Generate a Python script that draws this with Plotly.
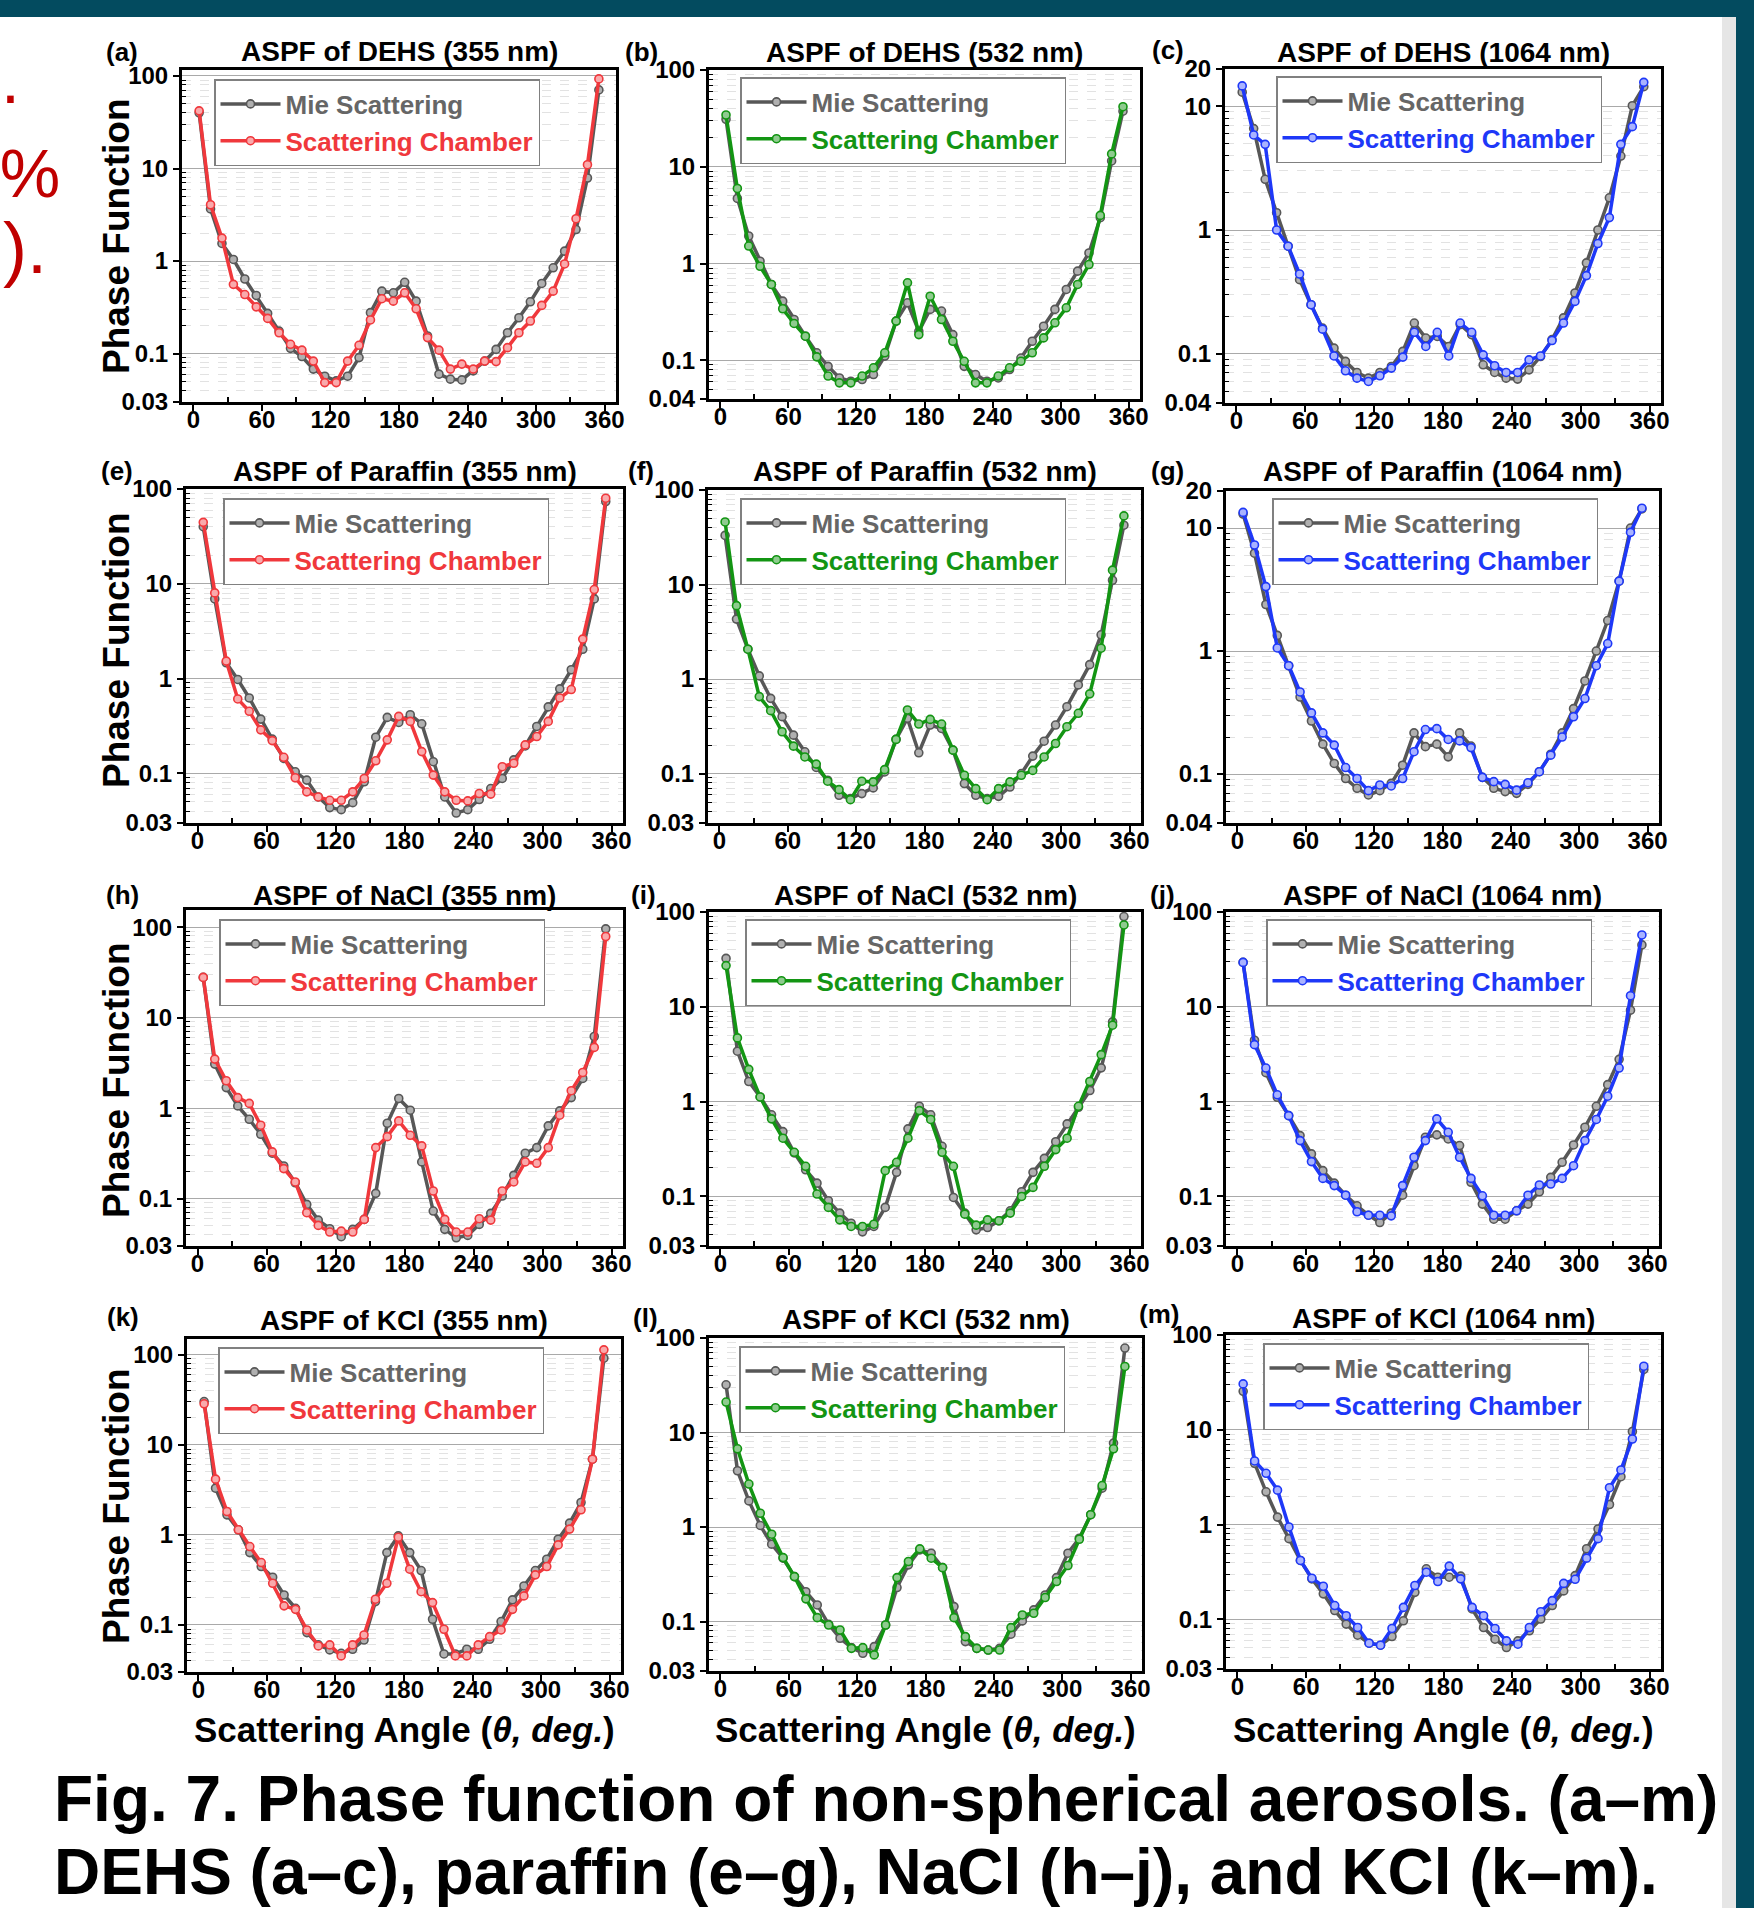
import math
import plotly.graph_objects as go

W, H = 1754, 1908
FONT = "Liberation Sans, Arial, Helvetica, sans-serif"

# ---------------- data ----------------
ANGLE = [5, 15, 25, 35, 45, 55, 65, 75, 85, 95, 105, 115, 125, 135, 145, 155, 165, 175,
         185, 195, 205, 215, 225, 235, 245, 255, 265, 275, 285, 295, 305, 315, 325, 335, 345, 355]
X_TICKS = [0, 60, 120, 180, 240, 300, 360]

DEHS_355_MIE = [40, 3.66, 1.55, 1.04, 0.64, 0.425, 0.272, 0.175, 0.114, 0.093, 0.068, 0.057, 0.0507, 0.057, 0.0906, 0.277, 0.473, 0.454,
                0.59, 0.369, 0.155, 0.06, 0.053, 0.052, 0.065, 0.083, 0.111, 0.168, 0.244, 0.363, 0.573, 0.846, 1.28, 2.19, 7.9, 70.7]
DEHS_355_CHAMBER = [42, 4.06, 1.77, 0.56, 0.435, 0.32, 0.24, 0.168, 0.126, 0.109, 0.083, 0.0486, 0.0486, 0.083, 0.123, 0.231, 0.392, 0.369,
                    0.454, 0.305, 0.149, 0.109, 0.068, 0.077, 0.068, 0.083, 0.082, 0.116, 0.168, 0.225, 0.332, 0.473, 0.93, 2.87, 11, 93]

DEHS_532_MIE = [31, 4.72, 1.93, 1.06, 0.61, 0.41, 0.265, 0.178, 0.12, 0.087, 0.066, 0.061, 0.0635, 0.0716, 0.111, 0.255, 0.394, 0.2,
                0.337, 0.324, 0.185, 0.087, 0.0716, 0.061, 0.066, 0.0807, 0.106, 0.158, 0.226, 0.337, 0.541, 0.837, 1.29, 2.98, 11.5, 37.6]
DEHS_532_CHAMBER = [34.3, 5.98, 1.52, 0.94, 0.61, 0.342, 0.241, 0.178, 0.109, 0.069, 0.0587, 0.0587, 0.069, 0.084, 0.12, 0.255, 0.634, 0.185,
                    0.461, 0.265, 0.158, 0.098, 0.0587, 0.0587, 0.069, 0.084, 0.098, 0.12, 0.171, 0.245, 0.35, 0.61, 0.98, 3.15, 13.6, 41.8]

DEHS_1064_MIE = [13.0, 6.6, 2.57, 1.38, 0.74, 0.397, 0.249, 0.161, 0.111, 0.0867, 0.0706, 0.0635, 0.0706, 0.0789, 0.1045, 0.177, 0.134, 0.138,
                 0.1145, 0.172, 0.1426, 0.0814, 0.0706, 0.0635, 0.0624, 0.0741, 0.095, 0.13, 0.195, 0.31, 0.542, 1.0, 1.82, 3.96, 10.1, 14.4]
DEHS_1064_CHAMBER = [14.6, 5.86, 4.92, 1.0, 0.74, 0.441, 0.249, 0.158, 0.096, 0.0728, 0.0635, 0.0597, 0.0664, 0.0766, 0.094, 0.149, 0.1145, 0.149,
                     0.096, 0.177, 0.149, 0.098, 0.08, 0.0706, 0.0706, 0.0893, 0.096, 0.128, 0.177, 0.265, 0.428, 0.778, 1.26, 4.92, 6.84, 15.6]

PARAFFIN_355_MIE = [40, 6.93, 1.47, 0.98, 0.625, 0.374, 0.23, 0.144, 0.104, 0.085, 0.0565, 0.0436, 0.0415, 0.0492, 0.0817, 0.241, 0.39, 0.345,
                    0.416, 0.334, 0.133, 0.0565, 0.0382, 0.0415, 0.053, 0.0693, 0.0885, 0.139, 0.195, 0.313, 0.503, 0.78, 1.24, 2.04, 6.93, 73.6]
PARAFFIN_355_CHAMBER = [44.5, 8.02, 1.53, 0.61, 0.452, 0.288, 0.222, 0.148, 0.09, 0.0639, 0.0565, 0.0521, 0.0521, 0.0639, 0.0885, 0.136, 0.226, 0.4,
                        0.354, 0.17, 0.096, 0.0639, 0.0521, 0.0513, 0.0614, 0.0605, 0.1177, 0.128, 0.2, 0.245, 0.354, 0.625, 0.767, 2.61, 8.7, 80]

PARAFFIN_532_MIE = [33.1, 4.31, 2.07, 1.08, 0.625, 0.4, 0.255, 0.17, 0.116, 0.085, 0.0589, 0.0543, 0.0614, 0.0705, 0.104, 0.23, 0.384, 0.166,
                    0.326, 0.3, 0.177, 0.0784, 0.0589, 0.0543, 0.0574, 0.0721, 0.1, 0.153, 0.22, 0.326, 0.51, 0.867, 1.42, 2.94, 11.1, 42.4]
PARAFFIN_532_CHAMBER = [45.9, 5.98, 2.07, 0.652, 0.463, 0.277, 0.195, 0.15, 0.126, 0.083, 0.0676, 0.053, 0.083, 0.0817, 0.11, 0.23, 0.471, 0.334,
                        0.374, 0.334, 0.177, 0.096, 0.0693, 0.053, 0.0693, 0.0817, 0.096, 0.108, 0.15, 0.208, 0.313, 0.434, 0.697, 2.12, 14.2, 53.2]

PARAFFIN_1064_MIE = [13.0, 6.24, 2.39, 1.34, 0.76, 0.423, 0.27, 0.175, 0.122, 0.092, 0.0766, 0.0676, 0.0733, 0.084, 0.118, 0.216, 0.167, 0.175,
                     0.138, 0.216, 0.169, 0.094, 0.0766, 0.072, 0.0697, 0.0825, 0.1045, 0.145, 0.216, 0.34, 0.571, 1.0, 1.77, 3.7, 10, 14.3]
PARAFFIN_1064_CHAMBER = [13.4, 7.28, 3.34, 1.06, 0.76, 0.465, 0.314, 0.216, 0.172, 0.113, 0.092, 0.0733, 0.0815, 0.08, 0.092, 0.152, 0.23, 0.234,
                         0.191, 0.186, 0.164, 0.094, 0.0867, 0.0825, 0.074, 0.085, 0.1045, 0.1425, 0.2, 0.292, 0.411, 0.76, 1.15, 3.7, 9.22, 14.5]

NACL_355_MIE = [27.9, 3.07, 1.69, 1.06, 0.755, 0.515, 0.318, 0.23, 0.15, 0.0865, 0.058, 0.0466, 0.038, 0.0458, 0.059, 0.1145, 0.682, 1.28,
                0.95, 0.255, 0.073, 0.0458, 0.037, 0.0393, 0.052, 0.0689, 0.107, 0.181, 0.318, 0.367, 0.637, 0.933, 1.31, 2.13, 6.2, 96]
NACL_355_CHAMBER = [27.9, 3.49, 2.01, 1.31, 1.13, 0.649, 0.329, 0.215, 0.153, 0.07, 0.0507, 0.0428, 0.0438, 0.0428, 0.059, 0.367, 0.485, 0.724,
                    0.502, 0.383, 0.1216, 0.059, 0.0428, 0.0428, 0.0601, 0.058, 0.1216, 0.153, 0.255, 0.246, 0.367, 0.837, 1.56, 2.48, 4.7, 79]

NACL_532_MIE = [32.4, 3.4, 1.63, 1.12, 0.726, 0.483, 0.288, 0.191, 0.138, 0.09, 0.0667, 0.0522, 0.0423, 0.0482, 0.0766, 0.1795, 0.516, 0.895,
                0.726, 0.338, 0.0975, 0.0667, 0.0444, 0.047, 0.0553, 0.0705, 0.112, 0.1795, 0.252, 0.378, 0.582, 0.871, 1.31, 2.27, 6.93, 89.5]
NACL_532_CHAMBER = [27.2, 4.7, 2.19, 1.12, 0.658, 0.411, 0.292, 0.208, 0.106, 0.0766, 0.0566, 0.0482, 0.0482, 0.0509, 0.187, 0.229, 0.411, 0.804,
                    0.648, 0.292, 0.208, 0.065, 0.0498, 0.0566, 0.0553, 0.0667, 0.1, 0.1245, 0.208, 0.312, 0.411, 0.893, 1.63, 3.13, 6.4, 73]

NACL_1064_MIE = [29.4, 4.44, 2.02, 1.11, 0.711, 0.438, 0.281, 0.187, 0.138, 0.103, 0.0797, 0.0634, 0.0531, 0.0667, 0.103, 0.211, 0.421, 0.446,
                 0.404, 0.344, 0.141, 0.083, 0.0575, 0.0575, 0.0705, 0.083, 0.112, 0.159, 0.229, 0.349, 0.537, 0.893, 1.51, 2.79, 9.22, 45]
NACL_1064_CHAMBER = [29.4, 3.99, 2.26, 1.18, 0.711, 0.388, 0.233, 0.155, 0.13, 0.103, 0.0689, 0.0634, 0.0634, 0.0624, 0.13, 0.259, 0.388, 0.658,
                     0.475, 0.259, 0.155, 0.1016, 0.0634, 0.0634, 0.0705, 0.103, 0.132, 0.135, 0.155, 0.211, 0.388, 0.648, 1.14, 2.26, 13.1, 57.3]

KCL_355_MIE = [30.3, 3.3, 1.67, 1.14, 0.636, 0.445, 0.339, 0.215, 0.153, 0.0822, 0.06, 0.0528, 0.0484, 0.0537, 0.068, 0.1815, 0.636, 0.975,
               0.636, 0.402, 0.1156, 0.0476, 0.0476, 0.0537, 0.0537, 0.0693, 0.109, 0.19, 0.271, 0.402, 0.537, 0.895, 1.35, 2.29, 6.93, 91.8]
KCL_355_CHAMBER = [28.6, 4.16, 1.82, 1.14, 0.742, 0.493, 0.29, 0.163, 0.149, 0.088, 0.0585, 0.06, 0.0453, 0.06, 0.0774, 0.193, 0.29, 0.942,
                   0.416, 0.234, 0.177, 0.0895, 0.0453, 0.0453, 0.06, 0.0741, 0.088, 0.149, 0.21, 0.36, 0.445, 0.774, 1.16, 1.9, 6.93, 113.6]

KCL_532_MIE = [32, 3.94, 1.89, 1.04, 0.659, 0.468, 0.299, 0.207, 0.15, 0.0936, 0.0665, 0.053, 0.0462, 0.0543, 0.092, 0.229, 0.398, 0.574,
               0.529, 0.372, 0.144, 0.0614, 0.0521, 0.05, 0.0521, 0.0735, 0.1016, 0.133, 0.191, 0.292, 0.529, 0.762, 1.35, 2.58, 7.73, 78.3]
KCL_532_CHAMBER = [21, 6.73, 2.85, 1.4, 0.84, 0.475, 0.299, 0.174, 0.11, 0.092, 0.0815, 0.0521, 0.053, 0.0444, 0.092, 0.292, 0.432, 0.588,
                   0.468, 0.372, 0.11, 0.0693, 0.0521, 0.05, 0.05, 0.0863, 0.1175, 0.1225, 0.1795, 0.265, 0.392, 0.743, 1.35, 2.75, 6.73, 50]

KCL_1064_MIE = [25.5, 4.43, 2.22, 1.2, 0.711, 0.419, 0.268, 0.186, 0.124, 0.0893, 0.0682, 0.0561, 0.0535, 0.066, 0.0968, 0.193, 0.342, 0.279,
                0.279, 0.286, 0.129, 0.0822, 0.0619, 0.0505, 0.0594, 0.0759, 0.101, 0.14, 0.2, 0.29, 0.557, 0.9, 1.63, 3.2, 9.6, 43.3]
KCL_1064_CHAMBER = [30.5, 4.69, 3.48, 2.31, 0.944, 0.419, 0.272, 0.224, 0.14, 0.1094, 0.0822, 0.0561, 0.0535, 0.0803, 0.134, 0.228, 0.315, 0.251,
                    0.365, 0.268, 0.134, 0.1094, 0.0803, 0.0594, 0.0548, 0.0822, 0.1205, 0.158, 0.24, 0.265, 0.443, 0.711, 2.45, 3.77, 8.0, 46.9]

# ---------------- styles ----------------
MIE_LINE, MIE_FILL, MIE_TEXT = "#575757", "#B0B0B0", "#666666"
WL_LINE = {"355": "#F0383C", "532": "#139513", "1064": "#1E38F8"}
WL_FILL = {"355": "#F9AAAC", "532": "#8FCB8F", "1064": "#A9B3FF"}
TEAL = "#034B5F"

Y3 = [0.03, 0.1, 1, 10, 100]
Y4 = [0.04, 0.1, 1, 10, 100]
Y20 = [0.04, 0.1, 1, 10, 20]

panels = [
    dict(tag="(a)", title="ASPF of DEHS (355 nm)", mie=DEHS_355_MIE, ch=DEHS_355_CHAMBER, wl="355",
         frame=(182, 616, 70, 402), yr=(0.03, 116), yt=Y3, leg=(214, 79), tagpos=(122, 52), ty=51),
    dict(tag="(b)", title="ASPF of DEHS (532 nm)", mie=DEHS_532_MIE, ch=DEHS_532_CHAMBER, wl="532",
         frame=(709, 1140, 70, 399), yr=(0.04, 100), yt=Y4, leg=(740, 77), tagpos=(641, 52), ty=52),
    dict(tag="(c)", title="ASPF of DEHS (1064 nm)", mie=DEHS_1064_MIE, ch=DEHS_1064_CHAMBER, wl="1064",
         frame=(1225, 1661, 69, 403), yr=(0.04, 20), yt=Y20, leg=(1276, 76), tagpos=(1168, 50), ty=52),
    dict(tag="(e)", title="ASPF of Paraffin (355 nm)", mie=PARAFFIN_355_MIE, ch=PARAFFIN_355_CHAMBER, wl="355",
         frame=(186, 623, 489, 823), yr=(0.03, 100), yt=Y3, leg=(223, 498), tagpos=(117, 471), ty=472),
    dict(tag="(f)", title="ASPF of Paraffin (532 nm)", mie=PARAFFIN_532_MIE, ch=PARAFFIN_532_CHAMBER, wl="532",
         frame=(708, 1141, 490, 823), yr=(0.03, 100), yt=Y3, leg=(740, 498), tagpos=(641, 471), ty=472),
    dict(tag="(g)", title="ASPF of Paraffin (1064 nm)", mie=PARAFFIN_1064_MIE, ch=PARAFFIN_1064_CHAMBER, wl="1064",
         frame=(1226, 1659, 491, 823), yr=(0.04, 20), yt=Y20, leg=(1272, 498), tagpos=(1167, 471), ty=472),
    dict(tag="(h)", title="ASPF of NaCl (355 nm)", mie=NACL_355_MIE, ch=NACL_355_CHAMBER, wl="355",
         frame=(186, 623, 910, 1246), yr=(0.03, 155), yt=Y3, leg=(219, 919), tagpos=(122, 895), ty=896),
    dict(tag="(i)", title="ASPF of NaCl (532 nm)", mie=NACL_532_MIE, ch=NACL_532_CHAMBER, wl="532",
         frame=(709, 1141, 912, 1246), yr=(0.03, 100), yt=Y3, leg=(745, 919), tagpos=(643, 895), ty=896),
    dict(tag="(j)", title="ASPF of NaCl (1064 nm)", mie=NACL_1064_MIE, ch=NACL_1064_CHAMBER, wl="1064",
         frame=(1226, 1659, 912, 1246), yr=(0.03, 100), yt=Y3, leg=(1266, 919), tagpos=(1162, 895), ty=896),
    dict(tag="(k)", title="ASPF of KCl (355 nm)", mie=KCL_355_MIE, ch=KCL_355_CHAMBER, wl="355",
         frame=(187, 621, 1339, 1672), yr=(0.03, 150), yt=Y3, leg=(218, 1347), tagpos=(123, 1317), ty=1320),
    dict(tag="(l)", title="ASPF of KCl (532 nm)", mie=KCL_532_MIE, ch=KCL_532_CHAMBER, wl="532",
         frame=(709, 1142, 1338, 1671), yr=(0.03, 100), yt=Y3, leg=(739, 1346), tagpos=(645, 1318), ty=1319),
    dict(tag="(m)", title="ASPF of KCl (1064 nm)", mie=KCL_1064_MIE, ch=KCL_1064_CHAMBER, wl="1064",
         frame=(1226, 1661, 1335, 1669), yr=(0.03, 100), yt=Y3, leg=(1263, 1343), tagpos=(1159, 1314), ty=1318),
]


def px(x):
    return x / W


def py(y):
    return 1 - y / H


def label(v):
    return "<b>%g</b>" % v


fig = go.Figure()
annotations = []
layout = {}

for i, p in enumerate(panels):
    n = i + 1
    sfx = "" if n == 1 else str(n)
    xref, yref = "x" + sfx, "y" + sfx
    legname = "legend" + sfx
    color, fill = WL_LINE[p["wl"]], WL_FILL[p["wl"]]

    fig.add_trace(go.Scatter(
        x=ANGLE, y=p["mie"], mode="lines+markers", xaxis=xref, yaxis=yref, legend=legname,
        name='<span style="color:%s">Mie Scattering</span>' % MIE_TEXT,
        line=dict(color=MIE_LINE, width=3.5),
        marker=dict(symbol="circle", size=8, color=MIE_FILL, line=dict(color=MIE_LINE, width=1.6)),
    ))
    fig.add_trace(go.Scatter(
        x=ANGLE, y=p["ch"], mode="lines+markers", xaxis=xref, yaxis=yref, legend=legname,
        name='<span style="color:%s">Scattering Chamber</span>' % color,
        line=dict(color=color, width=3.5),
        marker=dict(symbol="circle", size=8, color=fill, line=dict(color=color, width=1.6)),
    ))

    x0, x1, y0, y1 = p["frame"]
    lo, hi = p["yr"]
    minor_vals = [k * 10 ** e for e in range(-2, 3) for k in range(2, 10)
                  if lo < k * 10 ** e < hi and k * 10 ** e not in p["yt"]]

    layout["xaxis" + sfx] = dict(
        domain=[px(x0), px(x1)], anchor=yref, range=[-10, 370], automargin=False,
        tickmode="array", tickvals=X_TICKS, ticktext=[label(v) for v in X_TICKS],
        ticks="outside", ticklen=6, tickwidth=2, tickcolor="black", ticklabelstandoff=-12,
        showline=True, linewidth=3, linecolor="black", mirror=True,
        showgrid=False, zeroline=False,
        tickfont=dict(family=FONT, size=24, color="black", weight="bold"),
        minor=dict(tickvals=[30, 90, 150, 210, 270, 330], ticks="inside", ticklen=5,
                   tickwidth=1.5, tickcolor="black", showgrid=False),
    )
    layout["yaxis" + sfx] = dict(
        domain=[py(y1), py(y0)], anchor=xref, type="log", automargin=False,
        range=[math.log10(lo), math.log10(hi)],
        tickmode="array", tickvals=p["yt"], ticktext=[label(v) for v in p["yt"]],
        ticks="outside", ticklen=6, tickwidth=2, tickcolor="black",
        showline=True, linewidth=3, linecolor="black", mirror=True,
        showgrid=True, gridcolor="#A9A9A9", gridwidth=1.3, zeroline=False,
        tickfont=dict(family=FONT, size=24, color="black", weight="bold"),
        minor=dict(tickvals=minor_vals, ticks="inside", ticklen=4, tickwidth=1.2,
                   tickcolor="black", showgrid=True, gridcolor="#E2E2E2",
                   griddash="dash", gridwidth=1),
    )
    lx, ly = p["leg"]
    layout[legname] = dict(
        x=px(lx), y=py(ly), xanchor="left", yanchor="top",
        bgcolor="white", bordercolor="#808080", borderwidth=1.5,
        font=dict(family=FONT, size=26, weight="bold"), itemwidth=60, tracegroupgap=0,
    )

    annotations.append(dict(text="<b>%s</b>" % p["title"], x=px((x0 + x1) / 2), y=py(p["ty"]),
                            xref="paper", yref="paper", showarrow=False, xanchor="center", yanchor="middle",
                            font=dict(family=FONT, size=28, color="black")))
    tx, tyy = p["tagpos"]
    annotations.append(dict(text="<b>%s</b>" % p["tag"], x=px(tx), y=py(tyy),
                            xref="paper", yref="paper", showarrow=False, xanchor="center", yanchor="middle",
                            font=dict(family=FONT, size=26, color="black")))

# y-axis titles (left column)
for yc in [236, 650, 1080, 1506]:
    annotations.append(dict(text="<b>Phase Function</b>", x=px(116), y=py(yc), xref="paper", yref="paper",
                            showarrow=False, textangle=-90, xanchor="center", yanchor="middle",
                            font=dict(family=FONT, size=37, color="black")))
# x-axis titles (bottom row)
for xc in [404, 925, 1443]:
    annotations.append(dict(text="<b>Scattering Angle (<i>θ, deg.</i>)</b>", x=px(xc), y=py(1729),
                            xref="paper", yref="paper", showarrow=False, xanchor="center", yanchor="middle",
                            font=dict(family=FONT, size=35, color="black")))

# caption
annotations.append(dict(text="<b>Fig. 7. Phase function of non-spherical aerosols. (a–m)</b>",
                        x=px(52), y=py(1799), xref="paper", yref="paper", showarrow=False,
                        xanchor="left", yanchor="middle", font=dict(family=FONT, size=64, color="black")))
annotations.append(dict(text="<b>DEHS (a–c), paraffin (e–g), NaCl (h–j), and KCl (k–m).</b>",
                        x=px(52), y=py(1872), xref="paper", yref="paper", showarrow=False,
                        xanchor="left", yanchor="middle", font=dict(family=FONT, size=64, color="black")))

# clipped red text from the slide on the left edge
for txt, xr, yc, fs in [(".", 22, 79, 68), ("5%", 62, 173, 68), ("l).", 49, 248, 72)]:
    annotations.append(dict(text=txt, x=px(xr), y=py(yc), xref="paper", yref="paper", showarrow=False,
                            xanchor="right", yanchor="middle", font=dict(family=FONT, size=fs, color="#C00000")))

shapes = [
    dict(type="rect", xref="paper", yref="paper", x0=px(1722), x1=px(1736), y0=0, y1=py(17),
         fillcolor="#E6E6E6", line=dict(width=0), layer="below"),
    dict(type="rect", xref="paper", yref="paper", x0=0, x1=1, y0=py(17), y1=1,
         fillcolor=TEAL, line=dict(width=0)),
    dict(type="rect", xref="paper", yref="paper", x0=px(1736), x1=1, y0=0, y1=1,
         fillcolor=TEAL, line=dict(width=0)),
]

fig.update_layout(
    template="none",
    width=W, height=H, autosize=False,
    margin=dict(l=0, r=0, t=0, b=0, pad=0, autoexpand=False),
    paper_bgcolor="white", plot_bgcolor="white",
    font=dict(family=FONT, color="black"),
    annotations=annotations, shapes=shapes, showlegend=True,
    **layout,
)

fig.write_html("out.html", config={"displayModeBar": False, "responsive": False},
               post_script="document.body.style.margin='0px';document.body.style.overflow='hidden';")
